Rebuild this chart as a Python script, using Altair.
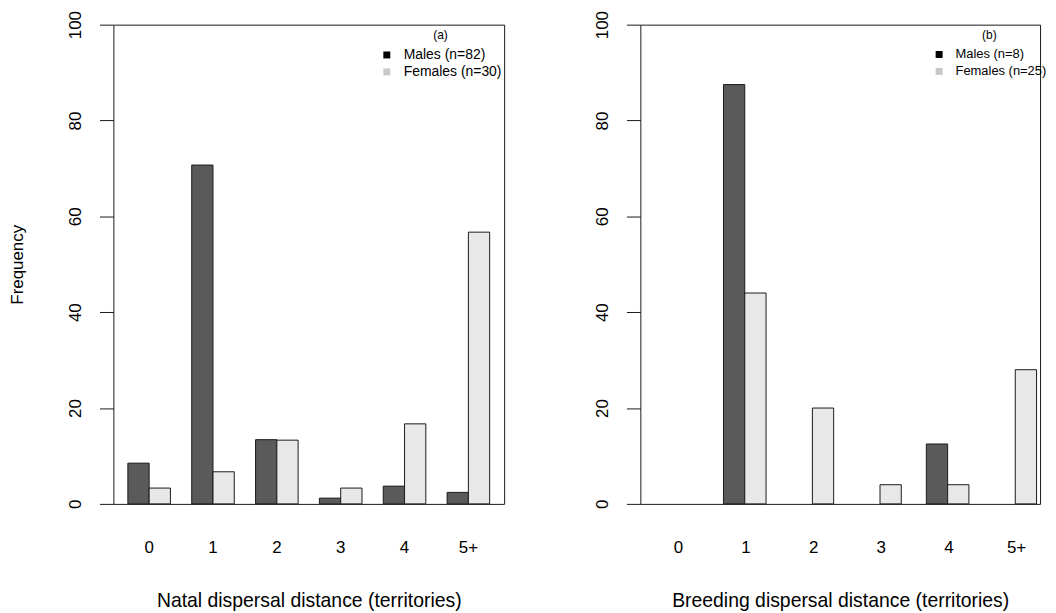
import altair as alt
import pandas as pd

categories = ["0", "1", "2", "3", "4", "5+"]
sexes = ["Males", "Females"]

natal_males = [8.5, 70.7, 13.4, 1.2, 3.7, 2.4]
natal_females = [3.3, 6.7, 13.3, 3.3, 16.7, 56.7]
natal_legend = ["Males (n=82)", "Females (n=30)"]

breeding_males = [0.0, 87.5, 0.0, 0.0, 12.5, 0.0]
breeding_females = [0.0, 44.0, 20.0, 4.0, 4.0, 28.0]
breeding_legend = ["Males (n=8)", "Females (n=25)"]

FONT = "Liberation Sans"


def make_df(males, females, legend):
    rows = []
    for c, m, f in zip(categories, males, females):
        rows.append({"distance": c, "sex": "Males", "pct": m, "legend": legend[0]})
        rows.append({"distance": c, "sex": "Females", "pct": f, "legend": legend[1]})
    return pd.DataFrame(rows)


def panel(df, legend, tag, xtitle, width, show_ytitle, legend_x, pad_outer, align,
          leg_font, leg_offset):
    base = alt.Chart(df)
    bars = base.mark_bar(stroke="#1a1a1a", strokeWidth=1).encode(
        x=alt.X(
            "distance:N",
            sort=categories,
            scale=alt.Scale(
                domain=categories, paddingInner=1 / 3, paddingOuter=pad_outer, align=align
            ),
            axis=alt.Axis(
                title=xtitle,
                labelAngle=0,
                ticks=False,
                domain=False,
                labelPadding=36,
                titlePadding=36,
                labelFontSize=17,
                titleFontSize=19.5,
            ),
        ),
        xOffset=alt.XOffset(
            "sex:N", scale=alt.Scale(domain=sexes, paddingInner=0, paddingOuter=0)
        ),
        y=alt.Y(
            "pct:Q",
            scale=alt.Scale(domain=[0, 100], nice=False, zero=True),
            axis=alt.Axis(
                title="Frequency" if show_ytitle else None,
                values=[0, 20, 40, 60, 80, 100],
                tickSize=14,
                tickColor="#1a1a1a",
                domain=False,
                labelAngle=270,
                labelAlign="center",
                labelBaseline="bottom",
                labelPadding=15,
                labelFontSize=17,
                titleFontSize=17,
                titlePadding=40,
            ),
        ),
        fill=alt.Fill(
            "sex:N",
            scale=alt.Scale(domain=sexes, range=["#5a5a5a", "#e8e8e8"]),
            legend=None,
        ),
    ).transform_filter(alt.datum.pct > 0)
    leg = base.mark_square(opacity=0).encode(
        color=alt.Color(
            "legend:N",
            scale=alt.Scale(domain=legend, range=["#000000", "#c8c8c8"]),
            legend=alt.Legend(
                title=tag,
                orient="none",
                legendX=legend_x,
                legendY=5.5,
                titleFontSize=12,
                titleFontWeight="normal",
                titleFont=FONT,
                titleColor="#000",
                titleAnchor="middle",
                titleAlign="center",
                titlePadding=6,
                labelFontSize=leg_font,
                labelFont=FONT,
                labelColor="#000",
                labelOffset=leg_offset,
                symbolType="square",
                symbolSize=49,
                symbolStrokeWidth=0,
                symbolOpacity=1,
                rowPadding=3,
                padding=0,
            ),
        )
    )
    return alt.layer(bars, leg).resolve_scale(color="independent").properties(
        width=width, height=482
    )


left = panel(
    make_df(natal_males, natal_females, natal_legend),
    natal_legend,
    "(a)",
    "Natal dispersal distance (territories)",
    393,
    True,
    268,
    0.2267,
    0.5,
    14,
    10,
)
right = panel(
    make_df(breeding_males, breeding_females, breeding_legend),
    breeding_legend,
    "(b)",
    "Breeding dispersal distance (territories)",
    402,
    False,
    294,
    0.122,
    0.94,
    13,
    10,
)

chart = (
    alt.hconcat(left, right, spacing=88)
    .resolve_scale(color="independent", fill="independent", x="independent", y="independent")
    .resolve_legend(color="independent")
    .properties(padding=0, background="white")
    .configure_view(stroke="#1a1a1a", strokeWidth=1)
    .configure_axis(
        labelFont=FONT,
        titleFont=FONT,
        grid=False,
        labelColor="#000",
        titleColor="#000",
        titleFontWeight="normal",
    )
)

chart.save("out.html", embed_options={"renderer": "svg", "actions": False})
